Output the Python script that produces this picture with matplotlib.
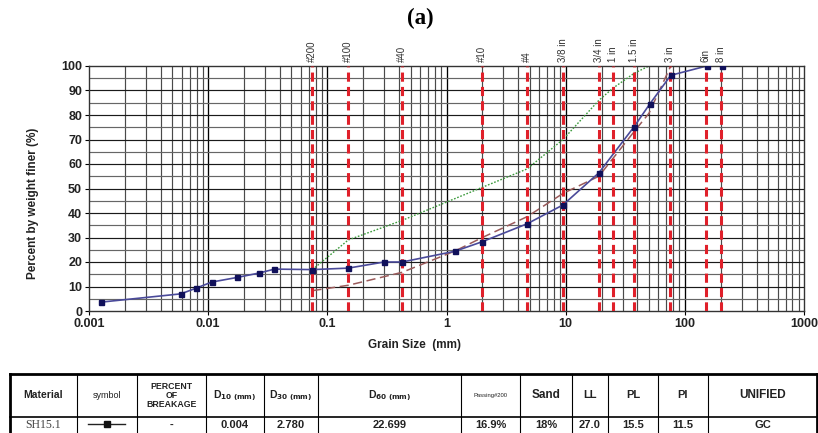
import matplotlib
matplotlib.use("Agg")
import matplotlib.pyplot as plt
from matplotlib.ticker import FixedLocator, NullFormatter
import numpy as np

# ---------------- data ----------------
main_x = [0.00125, 0.0059, 0.0079, 0.0107, 0.0175, 0.0268, 0.036, 0.075, 0.15, 0.30,
          0.425, 1.18, 2.0, 4.75, 9.5, 19.0, 37.5, 50.8, 76.2, 152.4, 203.2]
main_y = [3.6, 7.0, 9.3, 11.8, 13.7, 15.5, 17.1, 16.9, 17.5, 20.0,
          20.0, 24.4, 28.3, 35.6, 43.3, 56.4, 75.2, 84.5, 96.2, 100.0, 100.0]

upper_x = [0.075, 0.15, 0.425, 2.0, 4.75, 9.5, 19.0, 25.0, 37.5, 50.0, 76.2]
upper_y = [16.9, 29.0, 37.0, 50.5, 58.0, 70.0, 86.0, 91.0, 97.0, 100.0, 100.0]

lower_x = [0.075, 0.15, 0.425, 1.18, 2.0, 4.75, 9.5, 19.0, 37.5, 50.0, 76.2]
lower_y = [8.3, 10.5, 15.8, 24.5, 30.0, 38.5, 48.0, 55.0, 73.2, 80.7, 100.0]

sieve_sizes = [0.075, 0.15, 0.425, 2.0, 4.75, 9.5, 19.0, 25.0, 37.5, 75.0, 150.0, 200.0]
sieve_labels = ["#200", "#100", "#40", "#10", "#4", "3/8 in", "3/4 in", "1 in",
                "1.5 in", "3 in", "6in", "8 in"]

x_ticks = [0.001, 0.01, 0.1, 1, 10, 100, 1000]
x_ticklabels = ["0.001", "0.01", "0.1", "1", "10", "100", "1000"]
y_ticks = [0, 10, 20, 30, 40, 50, 60, 70, 80, 90, 100]

table_header = ["Material", "symbol", "PERCENT\nOF\nBREAKAGE", r"D$_{\mathbf{10\ (mm)}}$",
                r"D$_{\mathbf{30\ (mm)}}$", r"D$_{\mathbf{60\ (mm)}}$", "Passing#200",
                "Sand", "LL", "PL", "PI", "UNIFIED"]
table_row = ["SH15.1", "", "-", "0.004", "2.780", "22.699", "16.9%", "18%",
             "27.0", "15.5", "11.5", "GC"]

# ---------------- figure ----------------
W, H = 818, 433
fig = plt.figure(figsize=(W / 100, H / 100), dpi=100)
plt.rcParams['font.family'] = ['Liberation Sans', 'DejaVu Sans']

L, R, T, B = 89, 804, 66, 311
ax = fig.add_axes([L / W, 1 - B / H, (R - L) / W, (B - T) / H])
ax.set_xscale("log")
ax.set_xlim(0.001, 1000)
ax.set_ylim(0, 100)

# grid
minor_x = [m * 10.0 ** e for e in range(-3, 3) for m in range(2, 10)]
for xv in minor_x:
    ax.axvline(xv, color="#4a4a4a", lw=0.85, zorder=1)
for xv in x_ticks[1:-1]:
    ax.axvline(xv, color="black", lw=0.95, zorder=1)
for yv in range(5, 100, 5):
    ax.axhline(yv, color="#1a1a1a" if yv % 10 == 0 else "#666666", lw=0.85, zorder=1)

# sieve lines
for s, lab in zip(sieve_sizes, sieve_labels):
    ax.axvline(s, color="#e0202a", lw=2.2, ls=(0, (3.0, 1.7)), zorder=3)
    ax.text(s, 101.8, lab, rotation=90, ha="center", va="bottom", fontsize=7,
            color="#333333", transform=ax.transData, clip_on=False)

# curves
ax.plot(upper_x, upper_y, color="#3c9a3c", lw=1.0, ls=(0, (1.2, 1.2)), zorder=2)
ax.plot(lower_x, lower_y, color="#9a5a5a", lw=1.1, ls=(0, (6, 3)), zorder=2)
ax.plot(main_x, main_y, color="#4a4a9a", lw=1.2, zorder=2.5)
ax.plot(main_x, main_y, ls="none", marker="s", ms=3.6, color="#10105a", zorder=4)

ax.xaxis.set_major_locator(FixedLocator(x_ticks))
ax.xaxis.set_minor_locator(FixedLocator([]))
ax.xaxis.set_minor_formatter(NullFormatter())
ax.set_xticks(x_ticks)
ax.set_xticklabels(x_ticklabels, fontsize=9, fontweight="bold", color="#222222")
ax.set_yticks(y_ticks)
ax.set_yticklabels([str(v) for v in y_ticks], fontsize=9, fontweight="bold", color="#222222")
ax.tick_params(axis="both", length=3, width=0.8, pad=2)
for sp in ax.spines.values():
    sp.set_color("#333333")
    sp.set_linewidth(1.0)

fig.text(415 / W, 1 - 345 / H, "Grain Size  (mm)", ha="center", va="center",
         fontsize=8.5, fontweight="bold", color="#222222")
fig.text(33 / W, 1 - 203 / H, "Percent by weight finer (%)", rotation=90, ha="center",
         va="center", fontsize=8.5, fontweight="bold", color="#222222")
fig.text(420 / W, 1 - 18 / H, "(a)", ha="center", va="center", fontsize=16.5,
         fontweight="bold", family=["Liberation Serif", "DejaVu Serif"])

# ---------------- table ----------------
tax = fig.add_axes([0, 0, 1, 1], zorder=-1)
tax.set_xlim(0, W)
tax.set_ylim(H, 0)
tax.axis("off")

col_edges = [10, 77, 137, 206, 264, 318, 461, 520, 572, 608, 658, 708, 817]
row_top, row_mid, row_bot = 374, 417, 437
tax.plot([col_edges[0], col_edges[-1]], [row_top, row_top], color="black", lw=2.0)
tax.plot([col_edges[0], col_edges[-1]], [row_mid, row_mid], color="black", lw=1.2)
for i, xe in enumerate(col_edges):
    tax.plot([xe, xe], [row_top, row_bot], color="black",
             lw=2.0 if i in (0, len(col_edges) - 1) else 0.8)

hdr_sizes = [7.5, 6.5, 6.3, 7.5, 7.5, 7.5, 4.2, 8.5, 8, 8, 8, 8.5]
hdr_weights = ["bold", "normal", "bold", "bold", "bold", "bold", "normal",
               "bold", "bold", "bold", "bold", "bold"]
for i, (txt, fs, fw) in enumerate(zip(table_header, hdr_sizes, hdr_weights)):
    cx = (col_edges[i] + col_edges[i + 1]) / 2
    tax.text(cx, 395.5, txt, ha="center", va="center", fontsize=fs, fontweight=fw,
             color="#222222", linespacing=1.05)

for i, txt in enumerate(table_row):
    cx = (col_edges[i] + col_edges[i + 1]) / 2
    if i == 0:
        tax.text(cx, 425, txt, ha="center", va="center", fontsize=8.5,
                 family=["Liberation Serif", "DejaVu Serif"], color="#444444")
    elif i == 1:
        tax.plot([88, 125], [423.5, 423.5], color="#222222", lw=1.0)
        tax.plot([106.5], [423.5], marker="s", ms=5, color="#111111")
    else:
        tax.text(cx, 425, txt, ha="center", va="center", fontsize=8,
                 fontweight="bold", color="#222222")

fig.savefig("out.png", dpi=100)
